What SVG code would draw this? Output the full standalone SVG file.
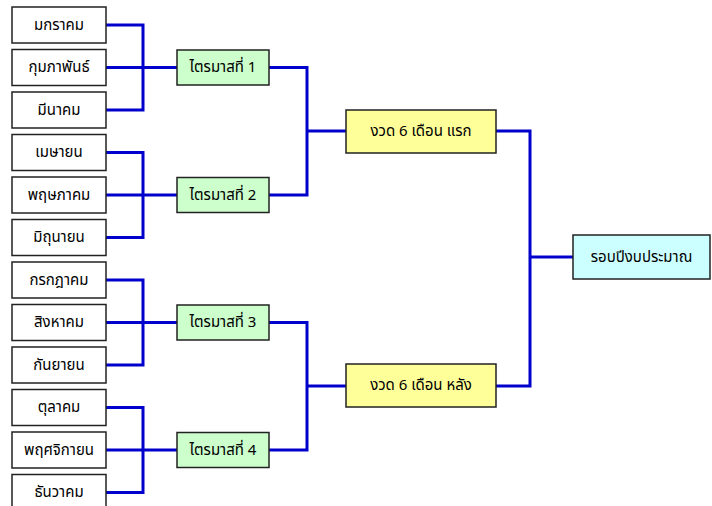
<svg xmlns="http://www.w3.org/2000/svg" width="712" height="506" viewBox="0 0 712 506">
<style>
.box{stroke:#222;stroke-width:1.5}
.m{fill:#fff}
.q{fill:#ccffcc}
.h{fill:#ffff99}
.f{fill:#ccffff}
text{font-family:"Noto Sans Thai","Noto Sans","DejaVu Sans",sans-serif;font-size:15px;fill:#000;text-anchor:middle;dominant-baseline:central}
#connectors path{fill:none;stroke:#0000cc;stroke-width:3}
</style>
<rect width="712" height="506" fill="#fff"/>
<g id="connectors">
<path d="M106,25 H143 V110 H106 M106,67.5 H177"/>
<path d="M106,152.5 H143 V237.5 H106 M106,195 H177"/>
<path d="M106,280 H143 V365 H106 M106,322.5 H177"/>
<path d="M106,407.5 H143 V492.5 H106 M106,450 H177"/>
<path d="M269,67.5 H307 V195 H269 M307,131 H346"/>
<path d="M269,322.5 H307 V450 H269 M307,386 H346"/>
<path d="M496,131 H530 V386 H496 M530,257 H573"/>
</g>
<g id="m1"><rect class="box m" x="12" y="7" width="94" height="36"/><text x="59" y="25">มกราคม</text></g>
<g id="m2"><rect class="box m" x="12" y="49.5" width="94" height="36"/><text x="59" y="67.5">กุมภาพันธ์</text></g>
<g id="m3"><rect class="box m" x="12" y="92" width="94" height="36"/><text x="59" y="110">มีนาคม</text></g>
<g id="m4"><rect class="box m" x="12" y="134.5" width="94" height="36"/><text x="59" y="152.5">เมษายน</text></g>
<g id="m5"><rect class="box m" x="12" y="177" width="94" height="36"/><text x="59" y="195">พฤษภาคม</text></g>
<g id="m6"><rect class="box m" x="12" y="219.5" width="94" height="36"/><text x="59" y="237.5">มิถุนายน</text></g>
<g id="m7"><rect class="box m" x="12" y="262" width="94" height="36"/><text x="59" y="280">กรกฎาคม</text></g>
<g id="m8"><rect class="box m" x="12" y="304.5" width="94" height="36"/><text x="59" y="322.5">สิงหาคม</text></g>
<g id="m9"><rect class="box m" x="12" y="347" width="94" height="36"/><text x="59" y="365">กันยายน</text></g>
<g id="m10"><rect class="box m" x="12" y="389.5" width="94" height="36"/><text x="59" y="407.5">ตุลาคม</text></g>
<g id="m11"><rect class="box m" x="12" y="432" width="94" height="36"/><text x="59" y="450">พฤศจิกายน</text></g>
<g id="m12"><rect class="box m" x="12" y="474.5" width="94" height="36"/><text x="59" y="492.5">ธันวาคม</text></g>
<g id="q1"><rect class="box q" x="177" y="50" width="92" height="35"/><text x="223" y="67.5">ไตรมาสที่ 1</text></g>
<g id="q2"><rect class="box q" x="177" y="177.5" width="92" height="35"/><text x="223" y="195">ไตรมาสที่ 2</text></g>
<g id="q3"><rect class="box q" x="177" y="305" width="92" height="35"/><text x="223" y="322.5">ไตรมาสที่ 3</text></g>
<g id="q4"><rect class="box q" x="177" y="432.5" width="92" height="35"/><text x="223" y="450">ไตรมาสที่ 4</text></g>
<g id="h1"><rect class="box h" x="346" y="110" width="150" height="43"/><text x="421" y="131.5">งวด 6 เดือน แรก</text></g>
<g id="h2"><rect class="box h" x="346" y="364" width="150" height="43"/><text x="421" y="385.5">งวด 6 เดือน หลัง</text></g>
<g id="f"><rect class="box f" x="573" y="235" width="137" height="44"/><text x="641.5" y="257">รอบปีงบประมาณ</text></g>
</svg>
